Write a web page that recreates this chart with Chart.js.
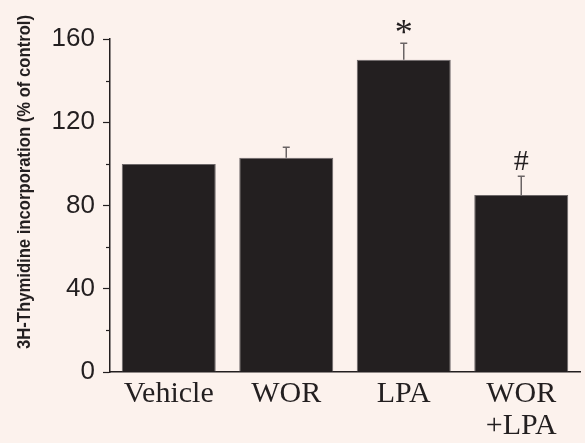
<!DOCTYPE html>
<html>
<head>
<meta charset="utf-8">
<script src="https://cdn.jsdelivr.net/npm/chart.js@4.4.1/dist/chart.umd.min.js"></script>
<style>
  html, body { margin: 0; padding: 0; background: #fcf2ed; }
  #wrap { width: 585px; height: 443px; }
</style>
</head>
<body>
<div id="wrap"><canvas id="c" width="585" height="443"></canvas></div>
<script>
// Groups on the x axis (multi-line labels as arrays)
const categories = ['Vehicle', 'WOR', 'LPA', ['WOR', '+LPA']];
// Mean 3H-thymidine incorporation, % of control
const means = [100, 103, 150, 85];
// Upper error (SEM) for each group
const errors = [0, 5, 8, 9];
// Significance marks above the error bars
const marks = ['', '', '*', '#'];
// Labelled y ticks
const yTickLabels = [0, 40, 80, 120, 160];
const yTitle = '3H-Thymidine incorporation (% of control)';

const INK = '#231f20';
const BG = '#fcf2ed';

const background = {
  id: 'background',
  beforeDraw(chart) {
    const ctx = chart.ctx;
    ctx.save();
    ctx.fillStyle = BG;
    ctx.fillRect(0, 0, chart.width, chart.height);
    ctx.restore();
  }
};

// Short minor ticks between the labelled ones
const minorTicks = {
  id: 'minorTicks',
  afterDraw(chart) {
    const y = chart.scales.y;
    const ctx = chart.ctx;
    ctx.save();
    ctx.strokeStyle = INK;
    ctx.lineWidth = 1.2;
    for (let v = 20; v < 160; v += 40) {
      const py = Math.round(y.getPixelForValue(v)) + 0.5;
      ctx.beginPath();
      ctx.moveTo(y.right - 4, py);
      ctx.lineTo(y.right, py);
      ctx.stroke();
    }
    ctx.restore();
  }
};

// Upward error bars with caps, plus significance marks
const errorBars = {
  id: 'errorBars',
  afterDatasetsDraw(chart) {
    const ctx = chart.ctx;
    const y = chart.scales.y;
    const meta = chart.getDatasetMeta(0);
    ctx.save();
    meta.data.forEach((bar, i) => {
      const top = y.getPixelForValue(means[i] + errors[i]);
      if (errors[i] > 0) {
        ctx.strokeStyle = '#6a6465';
        ctx.lineWidth = 1.5;
        ctx.beginPath();
        ctx.moveTo(bar.x, bar.y);
        ctx.lineTo(bar.x, top);
        ctx.moveTo(bar.x - 3.5, top);
        ctx.lineTo(bar.x + 3.5, top);
        ctx.stroke();
      }
      if (marks[i]) {
        ctx.fillStyle = INK;
        const size = marks[i] === '*' ? 36 : 30;
        ctx.font = size + 'px "Liberation Serif", "Times New Roman", serif';
        ctx.textAlign = 'center';
        ctx.textBaseline = 'alphabetic';
        const m = ctx.measureText(marks[i]);
        const cy = top - 16;
        const base = cy + (m.actualBoundingBoxAscent - m.actualBoundingBoxDescent) / 2;
        ctx.fillText(marks[i], bar.x, base);
      }
    });
    ctx.restore();
  }
};

// Rotated y-axis title
const yAxisTitle = {
  id: 'yAxisTitle',
  afterDraw(chart) {
    const ctx = chart.ctx;
    ctx.save();
    ctx.translate(25, 182);
    ctx.rotate(-Math.PI / 2);
    ctx.fillStyle = INK;
    ctx.font = 'bold 18px "Liberation Sans", Arial, sans-serif';
    ctx.textAlign = 'center';
    ctx.textBaseline = 'middle';
    ctx.fillText(yTitle, 0, 0, 334);
    ctx.restore();
  }
};

new Chart(document.getElementById('c'), {
  type: 'bar',
  data: {
    labels: categories,
    datasets: [{
      data: means,
      backgroundColor: INK,
      borderColor: '#6d6869',
      borderWidth: 1,
      borderSkipped: 'bottom',
      categoryPercentage: 1.0,
      barPercentage: 0.8
    }]
  },
  options: {
    responsive: false,
    animation: false,
    devicePixelRatio: 1,
    layout: { padding: { top: 39, right: 5, bottom: 0, left: 0 } },
    plugins: {
      legend: { display: false },
      tooltip: { enabled: false }
    },
    scales: {
      x: {
        grid: { display: false, drawTicks: false },
        border: { display: true, color: INK, width: 1.5 },
        ticks: {
          color: INK,
          padding: 6,
          maxRotation: 0,
          autoSkip: false,
          font: { family: '"Liberation Serif", "Times New Roman", serif', size: 30, lineHeight: 1.07 }
        },
        afterFit(scale) { scale.height = 71; }
      },
      y: {
        min: 0,
        max: 160,
        grid: {
          drawOnChartArea: false,
          drawTicks: true,
          tickLength: 7,
          tickWidth: 1.2,
          tickColor: ctx => (yTickLabels.includes(ctx.tick && ctx.tick.value) ? INK : 'rgba(0,0,0,0)')
        },
        border: { display: true, color: INK, width: 1.5 },
        ticks: {
          stepSize: 20,
          padding: 8,
          color: INK,
          font: { family: '"Liberation Sans", Arial, sans-serif', size: 26 },
          callback: v => (yTickLabels.includes(v) ? String(v) : '')
        },
        afterFit(scale) { scale.width = 110; }
      }
    }
  },
  plugins: [background, minorTicks, errorBars, yAxisTitle]
});
</script>
</body>
</html>
